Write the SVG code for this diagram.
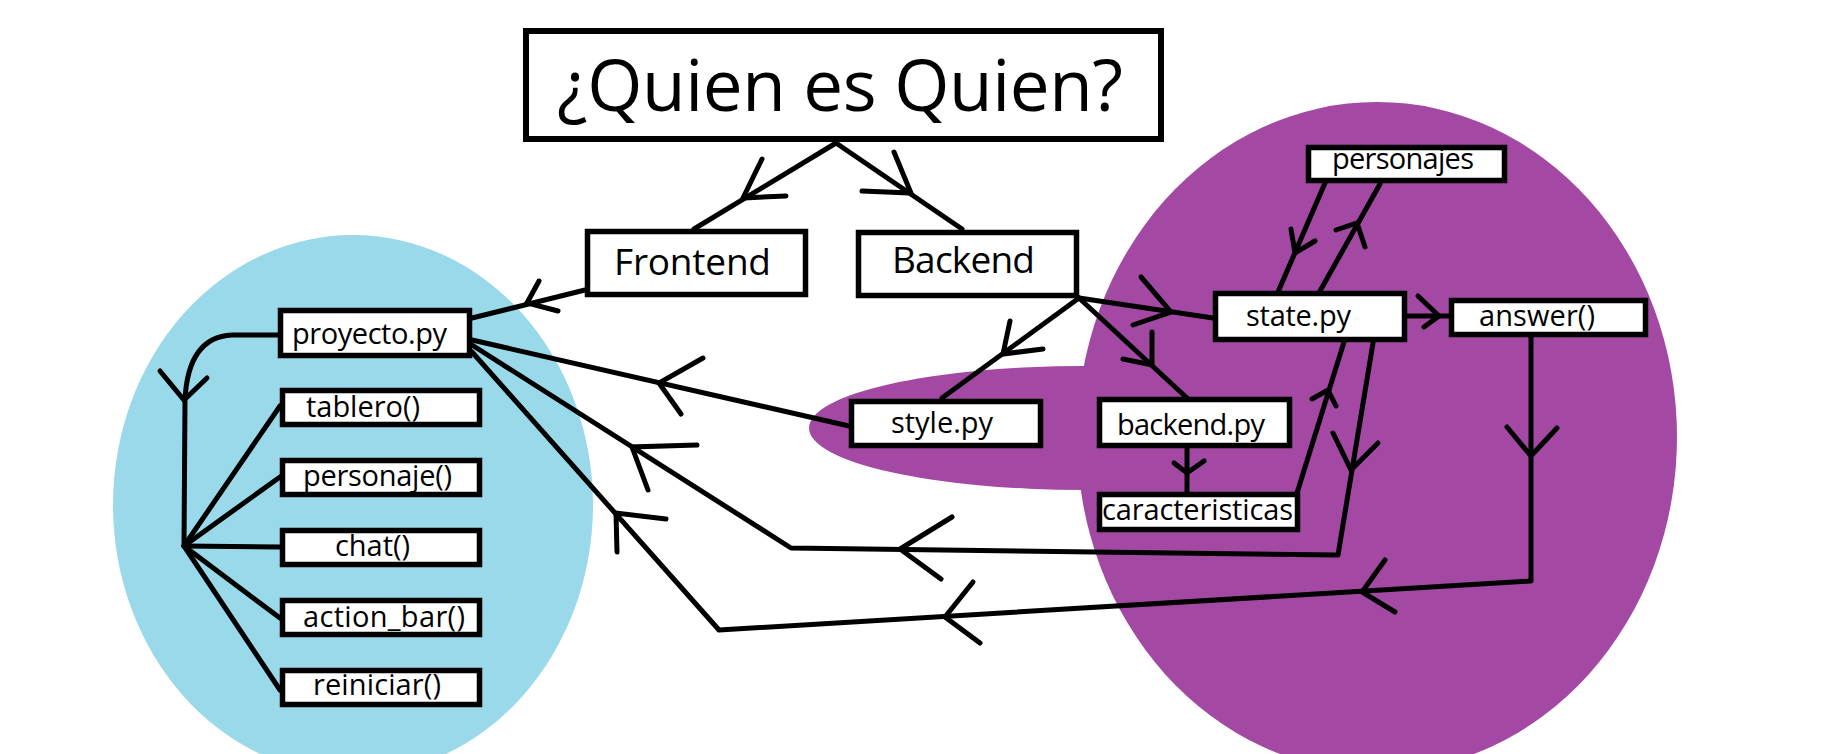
<svg xmlns="http://www.w3.org/2000/svg" width="1842" height="754" viewBox="0 0 1842 754">
<style>
.bg{fill:#ffffff}
.blue{fill:#99D9EA}
.purple{fill:#A349A4}
.box{fill:#ffffff;stroke:#000000;stroke-width:5.5}
.ln{fill:none;stroke:#000000;stroke-width:5;stroke-linecap:round;stroke-linejoin:round}
.ah{fill:none;stroke:#000000;stroke-width:5;stroke-linecap:round;stroke-linejoin:miter}
.t{font-family:"Open Sans","Noto Sans",sans-serif;font-size:29px;fill:#000000}
.tm{font-family:"Open Sans","Noto Sans",sans-serif;font-size:37px;fill:#000000}
.tt{font-family:"Open Sans","Noto Sans",sans-serif;font-size:71px;fill:#000000}
</style>
<rect class="bg" x="0" y="0" width="1842" height="754"/>
<g id="regions">
<ellipse class="blue" cx="353" cy="505" rx="240" ry="270"/>
<ellipse class="purple" cx="1083" cy="428" rx="274" ry="62"/>
<ellipse class="purple" cx="1377" cy="437" rx="300" ry="335"/>
</g>
<g id="connectors">
<path class="ln" d="M836,143 L694,229"/>
<path class="ah" d="M762,159 L743,198 L786,196"/>
<path class="ln" d="M836,143 L962,229"/>
<path class="ah" d="M894,152 L911,193 L862,191"/>
<path class="ln" d="M585,290 L472,318"/>
<path class="ah" d="M539,281 L527,303 L558,311"/>
<path class="ln" d="M278,335 L232,335 Q188,337 185,400 L184,546"/>
<path class="ah" d="M160,371 L184,400 L207,378"/>
<path class="ln" d="M184,546 L280,406"/>
<path class="ln" d="M184,546 L280,477"/>
<path class="ln" d="M184,546 L280,547"/>
<path class="ln" d="M184,546 L280,618"/>
<path class="ln" d="M184,546 L280,690"/>
<path class="ln" d="M472,340 L849,426"/>
<path class="ah" d="M703,358 L659,383 L681,414"/>
<path class="ln" d="M1373,343 L1338,555 L791,548 L472,345"/>
<path class="ah" d="M1333,433 L1351,470 L1378,443"/>
<path class="ah" d="M952,517 L900,549 L941,579"/>
<path class="ah" d="M697,445 L632,447 L648,490"/>
<path class="ln" d="M1531,337 L1531,581 L719,630 L472,352"/>
<path class="ah" d="M1507,427 L1531,456 L1557,428"/>
<path class="ah" d="M1385,560 L1362,592 L1395,612"/>
<path class="ah" d="M973,582 L945,617 L980,643"/>
<path class="ah" d="M617,552 L616,513 L666,519"/>
<path class="ln" d="M1079,298 L942,398"/>
<path class="ah" d="M1010,321 L1003,354 L1043,349"/>
<path class="ln" d="M1079,298 L1187,398"/>
<path class="ah" d="M1152,332 L1152,365 L1123,359"/>
<path class="ln" d="M1187,448 L1187,492"/>
<path class="ah" d="M1174,463 L1187,473 L1204,461"/>
<path class="ln" d="M1297,493 L1344,342"/>
<path class="ah" d="M1312,399 L1328,390 L1336,406"/>
<path class="ln" d="M1079,298 L1213,318"/>
<path class="ah" d="M1141,277 L1171,312 L1133,325"/>
<path class="ln" d="M1407,316 L1449,316"/>
<path class="ah" d="M1418,296 L1439,316 L1424,327"/>
<path class="ln" d="M1325,183 L1278,292"/>
<path class="ah" d="M1291,229 L1295,253 L1315,241"/>
<path class="ln" d="M1320,291 L1380,184"/>
<path class="ah" d="M1336,230 L1357,223 L1365,247"/>
</g>
<g id="title">
<rect class="box" x="526" y="31" width="635" height="108" style="stroke-width:6"/>
<text class="tt" x="557" y="111" textLength="566">¿Quien es Quien?</text>
</g>
<g id="frontend">
<rect class="box" x="587.5" y="231.5" width="218" height="63"/>
<text class="tm" x="614" y="275" textLength="157">Frontend</text>
</g>
<g id="backend">
<rect class="box" x="858.5" y="232.5" width="218" height="63"/>
<text class="tm" x="892" y="273" textLength="143">Backend</text>
</g>
<g id="proyecto">
<rect class="box" x="280.5" y="310.5" width="189" height="45"/>
<text class="t" x="292" y="344" textLength="155">proyecto.py</text>
</g>
<g id="tablero">
<rect class="box" x="282.5" y="390.5" width="197" height="34"/>
<text class="t" x="306" y="417" textLength="114">tablero()</text>
</g>
<g id="personaje">
<rect class="box" x="282.5" y="460.5" width="197" height="34"/>
<text class="t" x="303" y="486" textLength="149">personaje()</text>
</g>
<g id="chat">
<rect class="box" x="282.5" y="530.5" width="197" height="34"/>
<text class="t" x="335" y="556" textLength="75">chat()</text>
</g>
<g id="action_bar">
<rect class="box" x="282.5" y="600.5" width="197" height="34"/>
<text class="t" x="303" y="627" textLength="162">action_bar()</text>
</g>
<g id="reiniciar">
<rect class="box" x="282.5" y="670.5" width="197" height="34"/>
<text class="t" x="313" y="695" textLength="128">reiniciar()</text>
</g>
<g id="style">
<rect class="box" x="851.5" y="401.5" width="189" height="44"/>
<text class="t" x="891" y="433" textLength="102">style.py</text>
</g>
<g id="backendpy">
<rect class="box" x="1099.5" y="399.5" width="190" height="46"/>
<text class="t" x="1117" y="435" textLength="148">backend.py</text>
</g>
<g id="caracteristicas">
<rect class="box" x="1099.5" y="494.5" width="198" height="35"/>
<text class="t" x="1102" y="520" textLength="191">caracteristicas</text>
</g>
<g id="state">
<rect class="box" x="1215.5" y="293.5" width="189" height="46"/>
<text class="t" x="1246" y="326" textLength="105">state.py</text>
</g>
<g id="answer">
<rect class="box" x="1451.5" y="300.5" width="194" height="34"/>
<text class="t" x="1479" y="326" textLength="116">answer()</text>
</g>
<g id="personajes">
<rect class="box" x="1308.5" y="147.5" width="196" height="33"/>
<text class="t" x="1332" y="169" textLength="142">personajes</text>
</g>
</svg>
